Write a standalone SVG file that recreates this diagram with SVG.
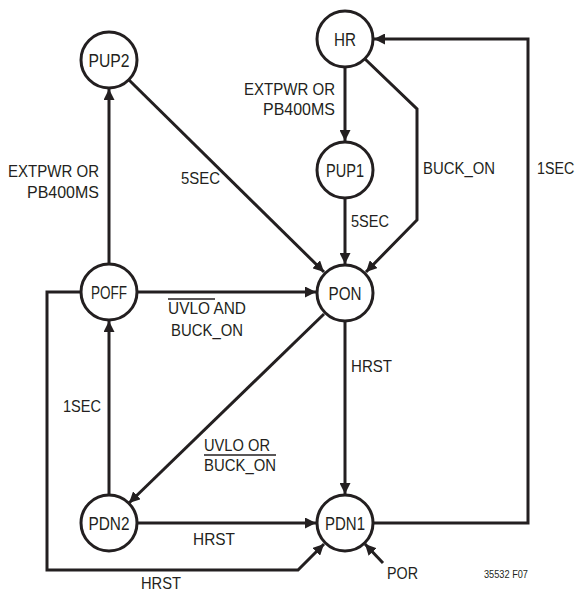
<svg xmlns="http://www.w3.org/2000/svg" width="578" height="592" viewBox="0 0 578 592">
<style>
.n{fill:#fff;stroke:#231f20;stroke-width:3}
.nt{font-family:"Liberation Sans",Arial,sans-serif;font-size:18px;fill:#231f20;text-anchor:middle}
.c{fill:none;stroke:#231f20;stroke-width:3;stroke-linejoin:miter}
.a{marker-end:url(#ah)}
.l{font-family:"Liberation Sans",Arial,sans-serif;font-size:17px;fill:#231f20}
.ov{stroke:#231f20;stroke-width:1.3}
</style>
<defs>
<marker id="ah" viewBox="0 0 10 10" refX="10" refY="5" markerWidth="11" markerHeight="11" markerUnits="userSpaceOnUse" orient="auto">
<path d="M0,0 L10,5 L0,10 z" fill="#231f20"/>
</marker>
</defs>
<rect width="578" height="592" fill="#fff"/>
<g id="connectors">
<line class="c a" x1="345" y1="67.5" x2="345" y2="141"/>
<line class="c a" x1="345" y1="198.5" x2="345" y2="264"/>
<polyline class="c a" points="365,59 417,109 417,220 366,272"/>
<line class="c a" x1="129" y1="80" x2="324" y2="272"/>
<line class="c a" x1="109" y1="264" x2="109" y2="89"/>
<line class="c a" x1="137" y1="292" x2="316" y2="292"/>
<polyline class="c a" points="81,292 47,292 47,570 298,570 324,544"/>
<line class="c a" x1="109" y1="495" x2="109" y2="321"/>
<line class="c a" x1="324" y1="314" x2="129" y2="503"/>
<line class="c a" x1="137" y1="523" x2="316" y2="523"/>
<line class="c a" x1="345" y1="321" x2="345" y2="494"/>
<polyline class="c a" points="373,523 528,523 528,39 374,39"/>
<line class="c a" x1="383" y1="563" x2="365" y2="544"/>
</g>
<g id="labels">
<text class="l" x="244" y="95" textLength="91" lengthAdjust="spacingAndGlyphs">EXTPWR OR</text>
<text class="l" x="263" y="115" textLength="72" lengthAdjust="spacingAndGlyphs">PB400MS</text>
<text class="l" x="8" y="177" textLength="91" lengthAdjust="spacingAndGlyphs">EXTPWR OR</text>
<text class="l" x="27" y="198" textLength="72" lengthAdjust="spacingAndGlyphs">PB400MS</text>
<text class="l" x="181" y="184" textLength="39" lengthAdjust="spacingAndGlyphs">5SEC</text>
<text class="l" x="351" y="227" textLength="38" lengthAdjust="spacingAndGlyphs">5SEC</text>
<text class="l" x="423" y="174" textLength="72" lengthAdjust="spacingAndGlyphs">BUCK_ON</text>
<text class="l" transform="translate(537,174) scale(0.84,1)" x="0" y="0">1SEC</text>
<text class="l" x="168" y="314" textLength="78" lengthAdjust="spacingAndGlyphs">UVLO AND</text>
<line class="ov" x1="168" y1="299" x2="215" y2="299"/>
<text class="l" x="171" y="336" textLength="72" lengthAdjust="spacingAndGlyphs">BUCK_ON</text>
<text class="l" x="63" y="412" textLength="38" lengthAdjust="spacingAndGlyphs">1SEC</text>
<text class="l" x="351" y="372" textLength="41" lengthAdjust="spacingAndGlyphs">HRST</text>
<text class="l" x="204" y="451" textLength="66" lengthAdjust="spacingAndGlyphs">UVLO OR</text>
<text class="l" x="204" y="471" textLength="72" lengthAdjust="spacingAndGlyphs">BUCK_ON</text>
<line class="ov" x1="204" y1="455" x2="276" y2="455"/>
<text class="l" x="193" y="545" textLength="42" lengthAdjust="spacingAndGlyphs">HRST</text>
<text class="l" x="141" y="589" textLength="40" lengthAdjust="spacingAndGlyphs">HRST</text>
<text class="l" x="387" y="579" textLength="31" lengthAdjust="spacingAndGlyphs">POR</text>
<text x="484" y="578" font-family="Liberation Sans, Arial, sans-serif" font-size="11" fill="#231f20" textLength="44" lengthAdjust="spacingAndGlyphs">35532 F07</text>
</g>
<g id="HR"><circle class="n" cx="345" cy="39" r="28"/><text class="nt" x="345" y="46" textLength="22" lengthAdjust="spacingAndGlyphs">HR</text></g>
<g id="PUP2"><circle class="n" cx="109" cy="60" r="28"/><text class="nt" x="109" y="67" textLength="41" lengthAdjust="spacingAndGlyphs">PUP2</text></g>
<g id="PUP1"><circle class="n" cx="345" cy="170" r="28"/><text class="nt" x="345" y="177" textLength="38" lengthAdjust="spacingAndGlyphs">PUP1</text></g>
<g id="PON"><circle class="n" cx="345" cy="293" r="28"/><text class="nt" x="345" y="300" textLength="33" lengthAdjust="spacingAndGlyphs">PON</text></g>
<g id="POFF"><circle class="n" cx="109" cy="292" r="28"/><text class="nt" x="109" y="299" textLength="36" lengthAdjust="spacingAndGlyphs">POFF</text></g>
<g id="PDN2"><circle class="n" cx="109" cy="523" r="28"/><text class="nt" x="109" y="530" textLength="41" lengthAdjust="spacingAndGlyphs">PDN2</text></g>
<g id="PDN1"><circle class="n" cx="345" cy="523" r="28"/><text class="nt" x="345" y="530" textLength="40" lengthAdjust="spacingAndGlyphs">PDN1</text></g>
</svg>
